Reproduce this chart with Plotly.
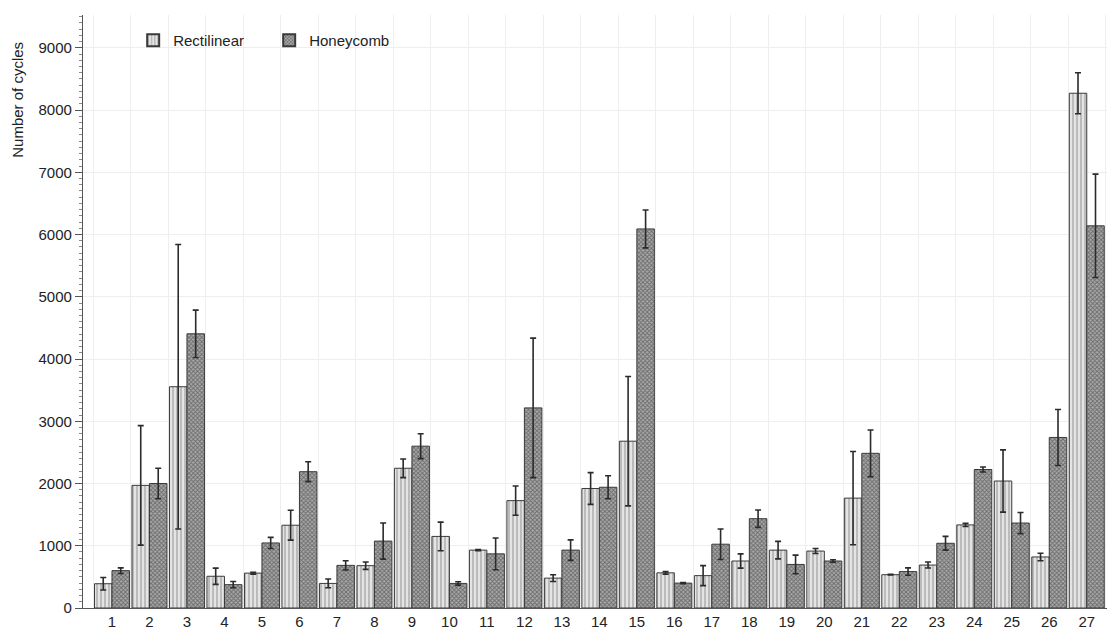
import plotly.graph_objects as go

# Specimen numbers along the x axis
categories = [str(i) for i in range(1, 28)]

# Mean number of cycles and standard deviation for each infill pattern
rectilinear = [390, 1970, 3555, 510, 560, 1330, 395, 680, 2245, 1150,
               930, 1725, 480, 1920, 2680, 565, 520, 755, 930, 915,
               1765, 535, 690, 1335, 2040, 820, 8270]
rectilinear_err = [100, 960, 2285, 130, 15, 240, 70, 60, 150, 230,
                   10, 235, 55, 255, 1040, 20, 160, 115, 140, 40,
                   750, 5, 48, 25, 500, 60, 330]

honeycomb = [600, 2000, 4405, 375, 1045, 2190, 685, 1075, 2600, 395,
             870, 3215, 930, 1940, 6090, 400, 1025, 1435, 700, 755,
             2485, 585, 1040, 2225, 1365, 2740, 6140]
honeycomb_err = [45, 245, 380, 50, 90, 160, 75, 290, 200, 27,
                 255, 1120, 165, 185, 305, 8, 245, 140, 150, 20,
                 375, 60, 110, 40, 170, 450, 830]

x_pos = list(range(1, len(categories) + 1))
boundaries = [p + 0.5 for p in range(0, len(categories) + 1)]

FONT = "Liberation Sans, Arial, sans-serif"
TEXT = "#222222"
EDGE = "#3a3a3a"

RECT_PATTERN = dict(shape="|", size=4, solidity=0.35,
                    fgcolor="#6e6e6e", bgcolor="#e4e4e4")
HONEY_PATTERN = dict(shape="x", size=3, solidity=0.5,
                     fgcolor="#2a2a2a", bgcolor="#aaaaaa")

fig = go.Figure()

fig.add_trace(go.Bar(
    name="Rectilinear",
    x=x_pos,
    y=rectilinear,
    error_y=dict(type="data", array=rectilinear_err, visible=True,
                 color="#2b2b2b", thickness=1.6, width=3),
    marker=dict(color="#dcdcdc", line=dict(color=EDGE, width=1),
                pattern=RECT_PATTERN),
))

fig.add_trace(go.Bar(
    name="Honeycomb",
    x=x_pos,
    y=honeycomb,
    error_y=dict(type="data", array=honeycomb_err, visible=True,
                 color="#2b2b2b", thickness=1.6, width=3),
    marker=dict(color="#7c7c7c", line=dict(color=EDGE, width=1),
                pattern=HONEY_PATTERN),
))

fig.update_layout(
    width=1107,
    height=630,
    margin=dict(l=83, r=0, t=15, b=19),
    paper_bgcolor="white",
    plot_bgcolor="white",
    barmode="group",
    bargap=0.067,
    bargroupgap=0.0,
    font=dict(family=FONT, size=15, color=TEXT),
    showlegend=True,
    legend=dict(
        orientation="h",
        x=0.049,
        y=0.985,
        xanchor="left",
        yanchor="top",
        bgcolor="rgba(0,0,0,0)",
        font=dict(family=FONT, size=15, color=TEXT),
        entrywidth=91,
        entrywidthmode="pixels",
        itemsizing="constant",
    ),
    annotations=[dict(
        text="Number of cycles",
        xref="paper", yref="paper",
        x=-0.0635, y=0.857,
        xanchor="center", yanchor="middle",
        textangle=-90,
        showarrow=False,
        font=dict(family=FONT, size=15, color=TEXT),
    )],
)

fig.update_xaxes(
    range=[0.227, 27.54],
    tickmode="array",
    tickvals=x_pos,
    ticktext=categories,
    ticks="",
    showgrid=False,
    zeroline=False,
    showline=True,
    linecolor="#555555",
    linewidth=1.2,
    tickfont=dict(family=FONT, size=15, color=TEXT),
    minor=dict(tickmode="array", tickvals=boundaries, showgrid=True,
               gridcolor="#eeeeee", gridwidth=1, ticks=""),
)

fig.update_yaxes(
    range=[0, 9527],
    tickmode="linear",
    tick0=0,
    dtick=1000,
    ticks="outside",
    ticklen=7,
    tickwidth=1,
    tickcolor="#555555",
    showgrid=True,
    gridcolor="#eeeeee",
    gridwidth=1,
    zeroline=False,
    showline=True,
    linecolor="#555555",
    linewidth=1.2,
    tickfont=dict(family=FONT, size=15, color=TEXT),
    minor=dict(dtick=100, ticks="outside", ticklen=3,
               tickcolor="#888888", showgrid=False),
)

fig.write_html("out.html")
